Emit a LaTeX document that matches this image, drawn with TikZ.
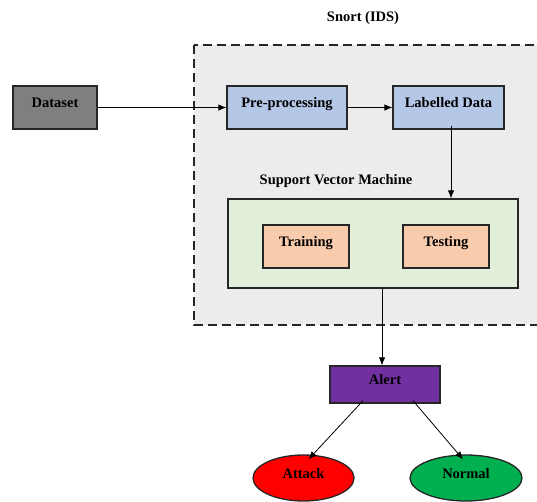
\documentclass[tikz,border=0pt]{standalone}
\usepackage{fontspec}
\setmainfont{Liberation Serif}
\usetikzlibrary{shapes.geometric,arrows.meta}
\definecolor{dsgray}{HTML}{7F7F7F}
\definecolor{areagray}{HTML}{ECECEC}
\definecolor{blueb}{HTML}{B4C7E7}
\definecolor{greenb}{HTML}{E2EFDA}
\definecolor{peach}{HTML}{F8CBAD}
\definecolor{purp}{HTML}{7030A0}
\definecolor{redb}{HTML}{FF0000}
\definecolor{greene}{HTML}{00B050}
\tikzset{
  txt/.style={font=\fontsize{14.5}{17}\selectfont\bfseries, text=black},
  box/.style={txt, draw=black!85, line width=1.3pt, rectangle, inner sep=0pt,
              text height=10pt, text depth=10pt},
  ell/.style={txt, draw=black!85, line width=1.3pt, ellipse, inner sep=0pt,
              text height=10pt, text depth=10pt},
  arr/.style={line width=0.8pt, -{Latex[length=8pt,width=6.5pt]}},
}
\begin{document}
\begin{tikzpicture}[x=1pt,y=-1pt]
\useasboundingbox (0,0) rectangle (537,501);
\begin{scope}
\clip (0,0) rectangle (537,501);
\draw[fill=areagray, dashed, dash pattern=on 9pt off 5pt, line width=1.4pt, draw=black!85]
  (194,45) rectangle (560,325);
\node[box, fill=dsgray, minimum width=84pt, minimum height=43pt] (dataset) at (55,107.5) {Dataset};
\node[box, fill=blueb, minimum width=120pt, minimum height=43pt] (pre) at (287,107.5) {Pre-processing};
\node[box, fill=blueb, minimum width=111pt, minimum height=43pt] (lab) at (448.5,107.5) {Labelled Data};
\node[txt] (snort) at (363,18) {Snort (IDS)};
\node[txt] (svmlbl) at (336,181) {Support Vector Machine};
\node[box, fill=greenb, minimum width=290pt, minimum height=89pt] (svm) at (373,243.5) {};
\node[box, fill=peach, minimum width=86pt, minimum height=43pt] (train) at (306,246.5) {Training};
\node[box, fill=peach, minimum width=86pt, minimum height=43pt] (test) at (446,246.5) {Testing};
\node[box, fill=purp, minimum width=110pt, minimum height=37pt] (alert) at (385,384.5) {Alert};
\node[ell, fill=redb, minimum width=101pt, minimum height=46pt] (attack) at (303.5,478) {Attack};
\node[ell, fill=greene, minimum width=112pt, minimum height=46pt] (normal) at (466,478) {Normal};

\draw[arr] (dataset.east) -- (pre.west);
\draw[arr] (pre.east) -- (lab.west);
\draw[arr] ([xshift=2.5pt,yshift=4pt]lab.south) -- ([xshift=78pt]svm.north);
\draw[arr] ([xshift=9pt]svm.south) -- ([xshift=-3pt]alert.north);
\draw[arr] ([xshift=-22pt,yshift=3pt]alert.south) -- ([xshift=5pt,yshift=-5pt]attack.north);
\draw[arr] ([xshift=28pt,yshift=3pt]alert.south) -- ([xshift=-3pt,yshift=-5pt]normal.north);
\end{scope}
\end{tikzpicture}
\end{document}
